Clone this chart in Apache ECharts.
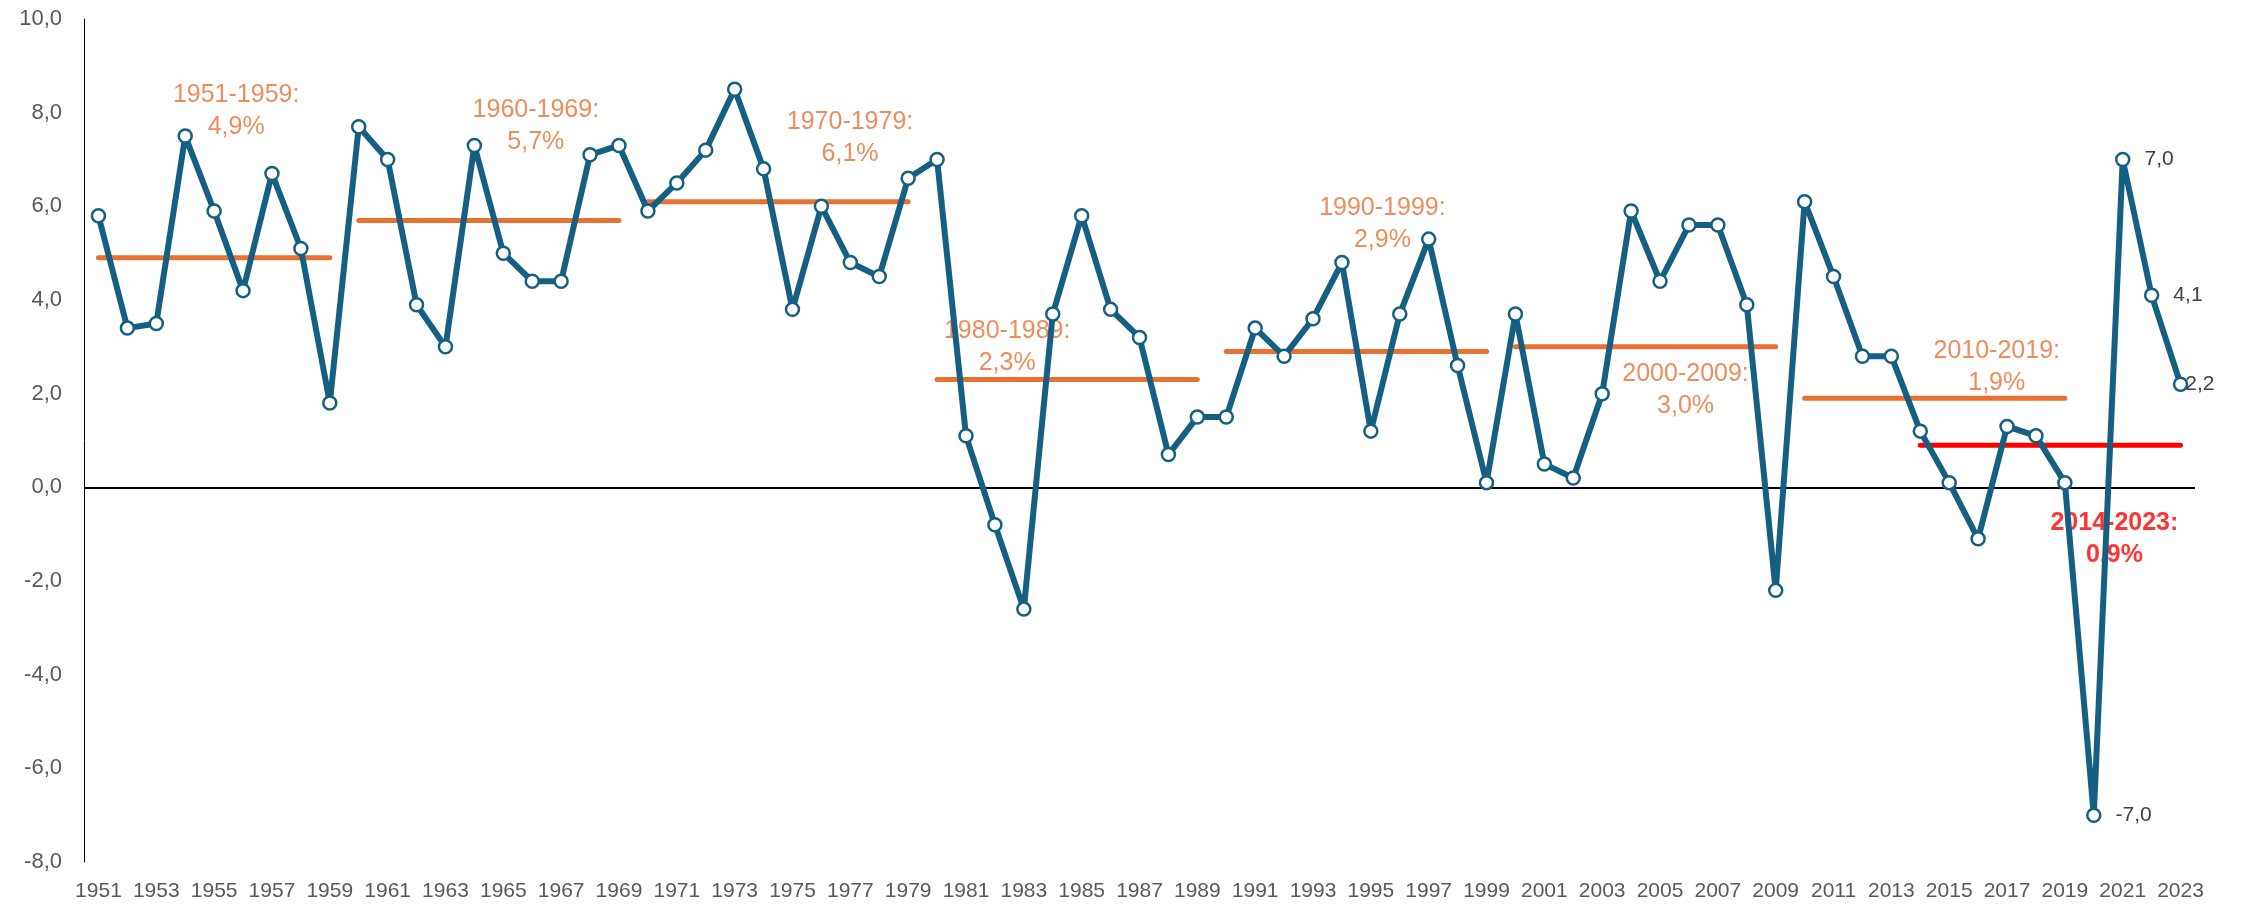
<!DOCTYPE html>
<html><head><meta charset="utf-8">
<script src="https://cdn.jsdelivr.net/npm/echarts@6/dist/echarts.min.js"></script>
<style>html,body{margin:0;padding:0;background:#fff}#c{width:2244px;height:904px}</style>
</head><body><div id="c"></div>
<script>
const years = ['1951','1952','1953','1954','1955','1956','1957','1958','1959','1960',
'1961','1962','1963','1964','1965','1966','1967','1968','1969','1970',
'1971','1972','1973','1974','1975','1976','1977','1978','1979','1980',
'1981','1982','1983','1984','1985','1986','1987','1988','1989','1990',
'1991','1992','1993','1994','1995','1996','1997','1998','1999','2000',
'2001','2002','2003','2004','2005','2006','2007','2008','2009','2010',
'2011','2012','2013','2014','2015','2016','2017','2018','2019','2020',
'2021','2022','2023'];
const growth = [5.8,3.4,3.5,7.5,5.9,4.2,6.7,5.1,1.8,7.7,
7.0,3.9,3.0,7.3,5.0,4.4,4.4,7.1,7.3,5.9,
6.5,7.2,8.5,6.8,3.8,6.0,4.8,4.5,6.6,7.0,
1.1,-0.8,-2.6,3.7,5.8,3.8,3.2,0.7,1.5,1.5,
3.4,2.8,3.6,4.8,1.2,3.7,5.3,2.6,0.1,3.7,
0.5,0.2,2.0,5.9,4.4,5.6,5.6,3.9,-2.2,6.1,
4.5,2.8,2.8,1.2,0.1,-1.1,1.3,1.1,0.1,-7.0,
7.0,4.1,2.2];
const periodStart = ['1951','1960','1970','1980','1990','2000','2010','2014'];
const periodEnd   = ['1959','1969','1979','1989','1999','2009','2019','2023'];
const periodAvg   = [4.9,5.7,6.1,2.3,2.9,3.0,1.9,0.9];
const labeledYears = ['2020','2021','2022','2023'];
const yMin = -8, yMax = 10, yStep = 2;

// ---- styling / layout ----
const BLUE = '#156082', ORANGE = '#E97132', RED = '#FF0000';
const FONT = "'Liberation Sans', Arial, sans-serif";
const labelOffsets = [[22,-147],[47,-94],[72,-64],[-60,-33],[26,-127],[40,43],[62,-31],[64,94]];
const fmt = v => v.toFixed(1).replace('.', ',');

const series = [];
periodStart.forEach((s, k) => {
  const i0 = years.indexOf(s), i1 = years.indexOf(periodEnd[k]);
  const isLast = k === periodStart.length - 1;
  series.push({
    type: 'line', z: 2, silent: true, symbol: 'none',
    data: years.map((y, i) => (i >= i0 && i <= i1) ? periodAvg[k] : '-'),
    lineStyle: { color: isLast ? RED : ORANGE, width: 5, cap: 'round' },
    connectNulls: false
  });
});
series.push({
  type: 'scatter', xAxisIndex: 1, z: 1, silent: true, symbolSize: 0,
  data: periodStart.map((s, k) => {
    const i0 = years.indexOf(s), i1 = years.indexOf(periodEnd[k]);
    const isLast = k === periodStart.length - 1;
    return {
      value: [(i0 + i1) / 2, periodAvg[k]],
      label: {
        show: true, position: 'inside', offset: labelOffsets[k],
        formatter: s + '-' + periodEnd[k] + ':\n' + fmt(periodAvg[k]) + '%',
        color: isLast ? RED : ORANGE, fontWeight: isLast ? 'bold' : 'normal',
        fontSize: 25, lineHeight: 32, fontFamily: FONT, align: 'center', verticalAlign: 'middle'
      }
    };
  })
});
series.push({
  type: 'line', z: 5,
  data: growth.map((v, i) => {
    const item = { value: v };
    if (labeledYears.includes(years[i])) {
      item.label = { show: true, position: 'right', distance: 14, formatter: fmt(v),
        color: '#404040', fontSize: 21, fontFamily: FONT,
        offset: years[i] === '2023' ? [-17, 0] : [0, 0] };
    }
    return item;
  }),
  symbol: 'circle', symbolSize: 13, showAllSymbol: true,
  itemStyle: { color: '#fff', borderColor: BLUE, borderWidth: 2.5 },
  lineStyle: { color: BLUE, width: 6 },
  markLine: { silent: true, symbol: 'none', label: { show: false },
    lineStyle: { color: '#000', width: 2, type: 'solid' },
    data: [{ yAxis: 0 }] }
});

const chart = echarts.init(document.getElementById('c'), null, { renderer: 'canvas' });
chart.setOption({
  animation: false,
  backgroundColor: '#fff',
  grid: { left: 84, right: 49, top: 19, bottom: 42 },
  xAxis: [{
    type: 'category', data: years, boundaryGap: true,
    axisLine: { show: false }, axisTick: { show: false },
    axisLabel: { interval: 1, color: '#595959', fontSize: 21, fontFamily: FONT, margin: 19 }
  }, {
    type: 'value', min: -0.5, max: years.length - 0.5, show: false
  }],
  yAxis: {
    type: 'value', min: yMin, max: yMax, interval: yStep,
    axisLine: { show: true, onZero: false, lineStyle: { color: '#000', width: 1 } },
    axisTick: { show: false }, splitLine: { show: false },
    axisLabel: { color: '#595959', fontSize: 22, fontFamily: FONT, margin: 22, formatter: fmt }
  },
  series
});
</script></body></html>
